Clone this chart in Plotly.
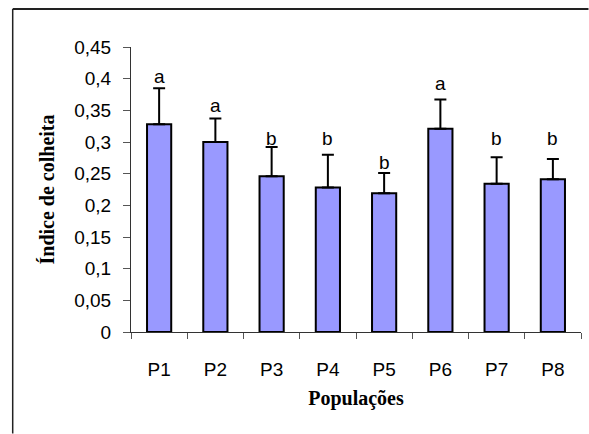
import plotly.graph_objects as go

# Harvest index per population, with standard deviation and test groups
populations = ["P1", "P2", "P3", "P4", "P5", "P6", "P7", "P8"]
harvest_index = [0.328, 0.300, 0.246, 0.228, 0.219, 0.321, 0.234, 0.241]
std_dev = [0.057, 0.037, 0.046, 0.052, 0.032, 0.046, 0.042, 0.032]
groups = ["a", "a", "b", "b", "b", "a", "b", "b"]
group_label_y = [0.403, 0.358, 0.306, 0.306, 0.267, 0.393, 0.306, 0.306]

W, H = 589, 434
ML, MR, MT, MB = 131, 8, 47, 102
plot_w = W - ML - MR
plot_h = H - MT - MB

sans = "Liberation Sans, Arial, sans-serif"
serif = "Liberation Serif, Times New Roman, serif"

fig = go.Figure()
fig.add_trace(go.Bar(
    x=populations,
    y=harvest_index,
    marker=dict(color="#9999FF", line=dict(color="black", width=2)),
    error_y=dict(
        type="data",
        array=std_dev,
        arrayminus=[0] * len(std_dev),
        symmetric=False,
        color="black",
        thickness=2,
        width=6,
    ),
    showlegend=False,
    hoverinfo="x+y",
))

for pop, g, gy in zip(populations, groups, group_label_y):
    fig.add_annotation(
        x=pop, y=gy, text=g, showarrow=False,
        xanchor="center", yanchor="middle",
        font=dict(family=sans, size=19, color="black"),
    )

# outer frame (left and top edges), kept inside the page
fx = (12.7 - ML) / plot_w
fy = (plot_h + MT - 9) / plot_h
fig.add_shape(type="line", xref="paper", yref="paper",
              x0=fx, x1=(W - ML - 0.5) / plot_w, y0=fy, y1=fy,
              line=dict(color="#222222", width=2))
fig.add_shape(type="line", xref="paper", yref="paper",
              x0=fx, x1=fx, y0=fy, y1=-(MB - 0.5) / plot_h,
              line=dict(color="#222222", width=1.5))

fig.update_layout(
    width=W, height=H,
    margin=dict(l=ML, r=MR, t=MT, b=MB, pad=0),
    paper_bgcolor="white",
    plot_bgcolor="white",
    separators=", ",
    bargap=0.57,
    font=dict(family=sans, size=19, color="black"),
)

fig.update_xaxes(
    showline=True, linecolor="#333333", linewidth=1,
    ticks="outside", ticklen=6, tickcolor="#555555", tickwidth=1,
    tickson="boundaries",
    ticklabelstandoff=20,
    showgrid=False, zeroline=False,
    tickfont=dict(family=sans, size=19, color="black"),
    title=dict(text="<b>Populações</b>", font=dict(family=serif, size=20, color="black"),
               standoff=12),
)
fig.update_yaxes(
    range=[0, 0.45], dtick=0.05, tick0=0,
    showline=True, linecolor="#333333", linewidth=1,
    ticks="outside", ticklen=7, tickcolor="#555555", tickwidth=1,
    ticklabelstandoff=8,
    showgrid=False, zeroline=False,
    tickfont=dict(family=sans, size=19, color="black"),
    title=dict(text="<b>Índice de colheita</b>", font=dict(family=serif, size=20, color="black"),
               standoff=14),
)

fig.write_html("out.html")
